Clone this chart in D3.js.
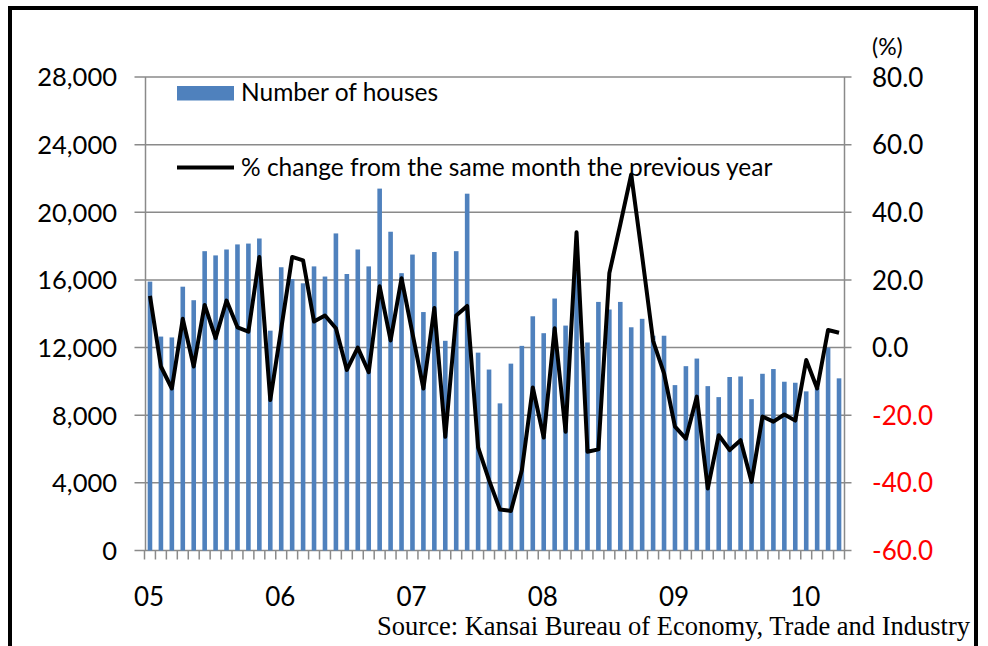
<!DOCTYPE html>
<html>
<head>
<meta charset="utf-8">
<script src="https://cdn.jsdelivr.net/npm/d3@7"></script>
<style>
  body { margin: 0; background: #fff; }
  svg { display: block; }
  .tick-label { font-family: Lato, "Open Sans", sans-serif; }
</style>
</head>
<body>
<div id="chart"></div>
<script>
// monthly figures, Jan 2005 .. Apr 2010
const houses = [
  15900, 12650, 12600, 15600, 14800, 17700, 17450, 17800, 18100, 18150, 18450, 13000,
  16750, 16050, 15800, 16800, 16200, 18750, 16350, 17800, 16800, 21400, 18850, 16400,
  17500, 14100, 17650, 12400, 17700, 21100, 11700, 10700, 8700, 11050, 12100, 13850,
  12850, 14900, 13300, 16500, 12300, 14700, 14250, 14700, 13200, 13700, 12700, 12700,
  9780, 10900, 11350, 9720, 9070, 10260, 10290, 8950, 10450, 10730, 9980, 9920,
  9410, 9600, 12000, 10180
];
const pctChange = [
  15.3, -5.6, -12.1, 8.5, -5.6, 12.6, 2.8, 13.9, 6.0, 4.7, 26.8, -15.5,
  5.6, 26.8, 25.8, 7.7, 9.5, 5.7, -6.6, 0.0, -7.3, 18.1, 2.1, 20.5,
  4.2, -12.1, 11.7, -26.4, 9.5, 12.3, -29.5, -39.2, -47.9, -48.3, -36.3, -11.8,
  -26.6, 5.7, -24.9, 34.1, -30.8, -30.1, 22.0, 36.4, 51.2, 27.0, 2.0, -7.6,
  -23.4, -26.9, -14.5, -41.7, -25.9, -30.3, -27.4, -39.7, -20.4, -21.9, -19.8, -21.6,
  -3.7, -12.1, 5.2, 4.4
];
const yearLabels = ["05", "06", "07", "08", "09", "10"];
const leftTicks = [0, 4000, 8000, 12000, 16000, 20000, 24000, 28000];
const rightTicks = [-60, -40, -20, 0, 20, 40, 60, 80];
const legendNames = ["Number of houses", "% change from the same month the previous year"];
const sourceText = "Source: Kansai Bureau of Economy, Trade and Industry";

const W = 988, H = 646;
const plot = { left: 144.5, right: 844.5, top: 77, bottom: 550.5 };
const months = d3.range(houses.length);

const svg = d3.select("#chart").append("svg")
  .attr("width", W).attr("height", H);

svg.append("rect").attr("width", W).attr("height", H).attr("fill", "#fff");

// outer frame (bottom edge runs off the picture)
svg.append("rect")
  .attr("x", 10).attr("y", 8)
  .attr("width", 966).attr("height", 720)
  .attr("fill", "none").attr("stroke", "#000").attr("stroke-width", 4);

const x = d3.scaleBand().domain(months).range([plot.left, plot.right]).padding(0);
const yL = d3.scaleLinear().domain([0, 28000]).range([plot.bottom, plot.top]);
const yR = d3.scaleLinear().domain([-60, 80]).range([plot.bottom, plot.top]);

const grid = "#8a8a8a";

// gridlines, they stick out a little on both sides like the tick marks
svg.append("g")
  .selectAll("line")
  .data(leftTicks)
  .join("line")
    .attr("x1", plot.left - 10).attr("x2", plot.right + 7)
    .attr("y1", d => yL(d)).attr("y2", d => yL(d))
    .attr("stroke", grid).attr("stroke-width", 1.5);

// bars
const barW = x.bandwidth() * 0.42;
svg.append("g")
  .selectAll("rect")
  .data(houses)
  .join("rect")
    .attr("x", (d, i) => x(i) + x.bandwidth() / 2 - barW / 2)
    .attr("y", d => yL(d))
    .attr("width", barW)
    .attr("height", d => yL(0) - yL(d))
    .attr("fill", "#4f81bd");

// axes lines
svg.append("line")
  .attr("x1", plot.left + 1).attr("x2", plot.left + 1)
  .attr("y1", plot.top).attr("y2", plot.bottom)
  .attr("stroke", grid).attr("stroke-width", 1.5);
svg.append("line")
  .attr("x1", plot.right).attr("x2", plot.right)
  .attr("y1", plot.top).attr("y2", plot.bottom)
  .attr("stroke", grid).attr("stroke-width", 1.5);

// category tick marks below the axis
svg.append("g")
  .selectAll("line")
  .data(d3.range(houses.length + 1))
  .join("line")
    .attr("x1", i => i < houses.length ? x(i) : plot.right)
    .attr("x2", i => i < houses.length ? x(i) : plot.right)
    .attr("y1", plot.bottom).attr("y2", plot.bottom + 9)
    .attr("stroke", grid).attr("stroke-width", 1.5);

// line series
const line = d3.line()
  .x((d, i) => x(i) + x.bandwidth() / 2)
  .y(d => yR(d));
svg.append("path")
  .datum(pctChange)
  .attr("d", line)
  .attr("fill", "none")
  .attr("stroke", "#000")
  .attr("stroke-width", 4)
  .attr("stroke-linejoin", "round");

// left axis labels
const leftAxis = d3.axisLeft(yL).tickValues(leftTicks).tickFormat(d3.format(",")).tickSize(0).tickPadding(0);
const gL = svg.append("g").attr("transform", `translate(117,0)`).call(leftAxis);
gL.select(".domain").remove();
gL.selectAll("text")
  .attr("class", "tick-label")
  .attr("font-size", 25.5).attr("fill", "#000").attr("dy", "0.35em");

// right axis labels, negatives in red
const rightAxis = d3.axisRight(yR).tickValues(rightTicks).tickFormat(d => d.toFixed(1)).tickSize(0).tickPadding(0);
const gR = svg.append("g").attr("transform", `translate(872,0)`).call(rightAxis);
gR.select(".domain").remove();
gR.selectAll("text")
  .attr("class", "tick-label")
  .attr("font-size", 26).attr("dy", "0.35em")
  .attr("fill", d => d < 0 ? "#ff0000" : "#000");

svg.append("text")
  .attr("class", "tick-label")
  .attr("x", 872).attr("y", 55)
  .attr("font-size", 23)
  .text("(%)");

// year labels under each January
svg.append("g")
  .selectAll("text")
  .data(yearLabels)
  .join("text")
    .attr("class", "tick-label")
    .attr("x", (d, i) => x(i * 12) + x.bandwidth() / 2 - 1)
    .attr("y", 606)
    .attr("text-anchor", "middle")
    .attr("font-size", 26)
    .text(d => d);

// legend
const lg = svg.append("g").attr("class", "tick-label").attr("font-size", 24.5);
lg.append("rect")
  .attr("x", 177).attr("y", 86).attr("width", 57).attr("height", 14.5)
  .attr("fill", "#4f81bd");
lg.append("text").attr("x", 241).attr("y", 101).text(legendNames[0]);
lg.append("line")
  .attr("x1", 177).attr("x2", 234).attr("y1", 167.5).attr("y2", 167.5)
  .attr("stroke", "#000").attr("stroke-width", 4);
lg.append("text").attr("x", 241).attr("y", 176).text(legendNames[1]);

// source
svg.append("text")
  .attr("x", 970).attr("y", 635)
  .attr("text-anchor", "end")
  .attr("font-family", "'Liberation Serif', 'Times New Roman', serif")
  .attr("font-size", 26.5)
  .text(sourceText);
</script>
</body>
</html>
